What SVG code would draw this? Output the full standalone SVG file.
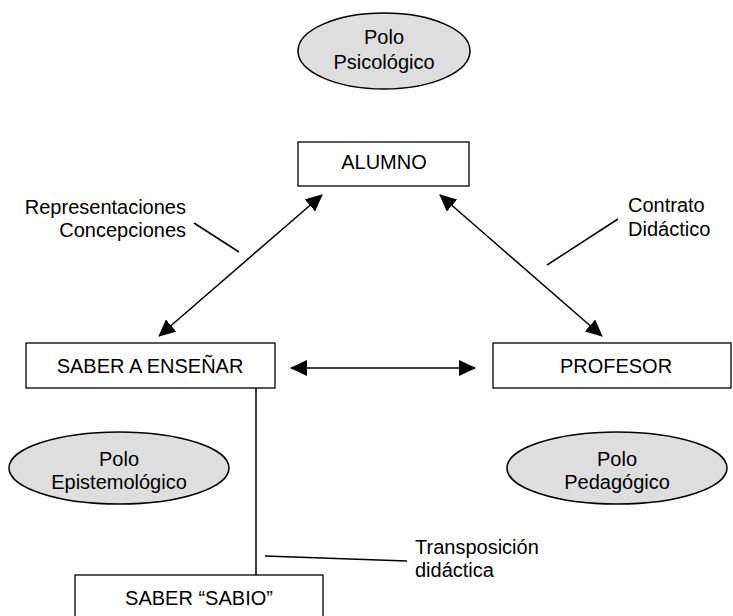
<svg xmlns="http://www.w3.org/2000/svg" width="733" height="616" viewBox="0 0 733 616">
<style>
text{font-family:"Liberation Sans",Arial,sans-serif;font-size:20px;fill:#000}
.box{fill:#fff;stroke:#000;stroke-width:1.3}
.pole{fill:#dedede;stroke:#000;stroke-width:1.5}
.c{text-anchor:middle}
.ln{stroke:#000;stroke-width:1.5;fill:none}
</style>
<defs>
<marker id="ah" viewBox="0 0 17 16" refX="16" refY="8" markerWidth="17" markerHeight="16" markerUnits="userSpaceOnUse" orient="auto-start-reverse">
<path d="M0,0 L17,8 L0,16 z" fill="#000"/>
</marker>
</defs>
<g id="connectors">
<line class="ln" x1="159" y1="336" x2="322" y2="195" marker-start="url(#ah)" marker-end="url(#ah)"/>
<line class="ln" x1="440" y1="195" x2="602" y2="336" marker-start="url(#ah)" marker-end="url(#ah)"/>
<line class="ln" x1="291" y1="368" x2="475" y2="368" marker-start="url(#ah)" marker-end="url(#ah)"/>
<line class="ln" x1="256" y1="388" x2="256" y2="575"/>
<line class="ln" x1="194" y1="223" x2="239" y2="252"/>
<line class="ln" x1="618" y1="219" x2="547" y2="265"/>
<line class="ln" x1="265" y1="556" x2="407" y2="561"/>
</g>
<g id="polo-psicologico">
<ellipse class="pole" cx="384" cy="51" rx="86" ry="38"/>
<text class="c" x="384" y="44">Polo</text>
<text class="c" x="384" y="69">Psicológico</text>
</g>
<g id="alumno">
<rect class="box" x="298" y="142" width="171" height="44"/>
<text class="c" x="384" y="169">ALUMNO</text>
</g>
<g id="saber-a-ensenar">
<rect class="box" x="26" y="343" width="249" height="45"/>
<text class="c" x="150" y="373">SABER A ENSEÑAR</text>
</g>
<g id="profesor">
<rect class="box" x="493" y="343" width="238" height="45"/>
<text class="c" x="616" y="373">PROFESOR</text>
</g>
<g id="polo-epistemologico">
<ellipse class="pole" cx="119" cy="468" rx="110" ry="36"/>
<text class="c" x="119" y="466">Polo</text>
<text class="c" x="119" y="489">Epistemológico</text>
</g>
<g id="polo-pedagogico">
<ellipse class="pole" cx="617" cy="468" rx="110" ry="36"/>
<text class="c" x="617" y="466">Polo</text>
<text class="c" x="617" y="489">Pedagógico</text>
</g>
<g id="saber-sabio">
<rect class="box" x="75" y="575" width="248" height="50"/>
<text class="c" x="199" y="605">SABER “SABIO”</text>
</g>
<g id="labels">
<text x="186" y="214" text-anchor="end">Representaciones</text>
<text x="186" y="237" text-anchor="end">Concepciones</text>
<text x="628" y="212">Contrato</text>
<text x="628" y="236">Didáctico</text>
<text x="415" y="554">Transposición</text>
<text x="415" y="577">didáctica</text>
</g>
</svg>
